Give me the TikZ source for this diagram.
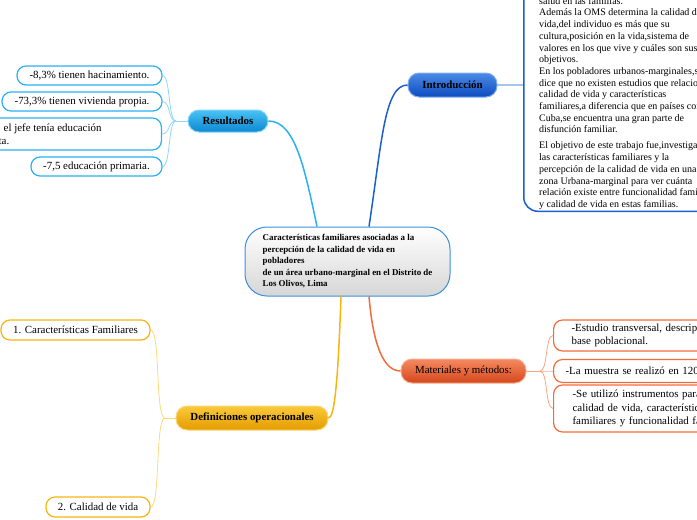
\documentclass[tikz,border=0pt]{standalone}
\usepackage{fontspec}
\setmainfont{Liberation Serif}
\definecolor{cblue}{HTML}{3D8FDC}
\definecolor{rcol}{HTML}{2BB0F0}
\definecolor{rtop}{HTML}{48C2F6}
\definecolor{rbot}{HTML}{0E88D0}
\definecolor{rlight}{HTML}{92D5F8}
\definecolor{icol}{HTML}{1C5FCF}
\definecolor{itop}{HTML}{4A8AE6}
\definecolor{ibot}{HTML}{0D4CBF}
\definecolor{ilight}{HTML}{A6C6F0}
\definecolor{mcol}{HTML}{F26B3A}
\definecolor{mtop}{HTML}{F58A62}
\definecolor{mbot}{HTML}{D5461B}
\definecolor{mlight}{HTML}{F9A585}
\definecolor{dcol}{HTML}{F7B512}
\definecolor{dtop}{HTML}{FBC93A}
\definecolor{dbot}{HTML}{E49C00}
\definecolor{dlight}{HTML}{FCD97A}
\newcommand{\leaffont}{\rmfamily\mdseries\fontsize{10.9}{13.2}\selectfont}
\newcommand{\introfont}{\rmfamily\mdseries\fontsize{10}{11.7}\selectfont}
\newcommand{\topicfont}{\rmfamily\bfseries\fontsize{10.9}{13}\selectfont}
\begin{document}
\begin{tikzpicture}[x=1pt,y=-1pt,
  leafbox/.style={draw, fill=white, rounded corners=9pt, line width=1.2pt,
    font=\leaffont, inner sep=0pt, minimum height=19pt},
  leftleafbox/.style={leafbox, anchor=west, align=left, text width=260pt, inner ysep=3pt},
  topicbox/.style={draw, rounded corners=11pt, line width=1pt, minimum height=24pt,
    inner sep=0pt, font=\topicfont},
  mainconn/.style={line width=1.5pt},
  subconn/.style={line width=0.8pt}]
\useasboundingbox (0,0) rectangle (697,520);
\clip (0,0) rectangle (697,520);

% central
\node (central) [draw=cblue, line width=1pt, rounded corners=22pt, top color=white,
  bottom color=black!16, minimum width=205pt, minimum height=69pt, align=left,
  inner sep=0pt, font=\rmfamily\bfseries\fontsize{8.9}{11.5}\selectfont] at (347.5,261.5)
  {Características familiares asociadas a la\\percepción de la calidad de vida en\\pobladores\\de un área urbano-marginal en el Distrito de\\Los Olivos, Lima};

% topics
\node (res) [topicbox, draw=rtop!70!white, top color=rtop, bottom color=rbot, minimum width=80pt, minimum height=22pt] at (228,121) {Resultados};
\node (intro) [topicbox, draw=itop!70!white, top color=itop, bottom color=ibot, minimum width=89pt] at (452.5,85) {Introducción};
\node (mat) [topicbox, draw=mtop!70!white, top color=mtop, bottom color=mbot, minimum width=125pt, font=\leaffont] at (463.5,371) {Materiales y métodos:};
\node (def) [topicbox, draw=dtop!70!white, top color=dtop, bottom color=dbot, minimum width=152pt] at (252,418) {Definiciones operacionales};

% main connectors
\draw[mainconn, rcol] ([xshift=-30.5pt]central.north) .. controls +(-12,-56) and +(27,0) .. (res.east);
\draw[mainconn, icol] ([xshift=21.5pt]central.north) .. controls +(13,-86) and +(-23,0) .. (intro.west);
\draw[mainconn, mcol] ([xshift=21.5pt]central.south) .. controls +(3,35) and +(-21,0) .. (mat.west);
\draw[mainconn, dcol] ([xshift=-6.5pt]central.south) .. controls +(-3,85) and +(6,0) .. (def.east);

% Resultados children
\node (r1) [leafbox, draw=rcol, minimum width=145pt] at (89.5,75.5) {-8,3\% tienen hacinamiento.};
\node (r2) [leafbox, draw=rcol, minimum width=160pt] at (82,101.5) {-73,3\% tienen vivienda propia.};
\node (r3) [leafbox, draw=rcol, minimum width=200pt, minimum height=32pt, anchor=east] at (162,134) {};
\node (r3t) [anchor=west, align=left, inner sep=0pt, font=\leaffont] at (-1.5,134) {\hspace*{5pt}el jefe tenía educación\\ta.};
\node (r4) [leafbox, draw=rcol, minimum width=131pt] at (96.5,166.5) {-7,5 educación primaria.};
\coordinate (rb) at (176,121);
\draw[subconn, rlight] (res.west) -- (rb);
\foreach \c in {r1,r2,r3,r4}
  \draw[subconn, rlight] (rb) .. controls +(-8,0) and +(8,0) .. (\c.east);

% Introduccion box
\node (ibox) [draw=icol, line width=1.5pt, rounded corners=14pt, fill=white, anchor=south west,
  minimum width=250pt, minimum height=260pt] at (523,212) {};
\draw[line width=2pt, ilight] (intro.east) -- (intro.east -| ibox.west);
\node (itext) [anchor=north west, align=left, inner sep=0pt, font=\introfont] at (539,-3)
{salud en las familias.\\
Además la OMS determina la calidad de\\
vida,del individuo es más que su\\
cultura,posición en la vida,sistema de\\
valores en los que vive y cuáles son sus\\
objetivos.\\
En los pobladores urbanos-marginales,se\\
dice que no existen estudios que relacionen\\
calidad de vida y características\\
familiares,a diferencia que en países como\\
Cuba,se encuentra una gran parte de\\
disfunción familiar.\\[4.3pt]
El objetivo de este trabajo fue,investigar\\
las características familiares y la\\
percepción de la calidad de vida en una\\
zona Urbana-marginal para ver cuánta\\
relación existe entre funcionalidad familiar\\
y calidad de vida en estas familias.};

% Materiales children
\node (m1) [leftleafbox, draw=mcol, inner xsep=18pt, minimum height=31pt] at (553,335.5) {-Estudio transversal, descriptivo, de\\base poblacional.};
\node (m2) [leftleafbox, draw=mcol, inner xsep=12pt, minimum height=23pt] at (553,371) {-La muestra se realizó en 120 familias.};
\node (m3) [leftleafbox, draw=mcol, inner xsep=19pt, minimum height=47pt] at (553,408.5) {-Se utilizó instrumentos para medir\\calidad de vida, características\\familiares y funcionalidad familiar.};
\coordinate (mb) at (540,371);
\draw[subconn, mlight] (mat.east) -- (mb);
\foreach \c in {m1,m2,m3}
  \draw[subconn, mlight] (mb) .. controls +(8,0) and +(-8,0) .. (\c.west);

% Definiciones children
\node (d1) [leafbox, draw=dcol, minimum width=149pt, minimum height=20pt] at (75.5,330) {1. Características Familiares};
\node (d2) [leafbox, draw=dcol, minimum width=104pt, minimum height=20pt] at (98,507) {2. Calidad de vida};
\coordinate (db) at (165,418);
\draw[subconn, dlight] (def.west) -- (db);
\foreach \c in {d1,d2}
  \draw[subconn, dlight] (db) .. controls +(-10,0) and +(10,0) .. (\c.east);
\end{tikzpicture}
\end{document}
